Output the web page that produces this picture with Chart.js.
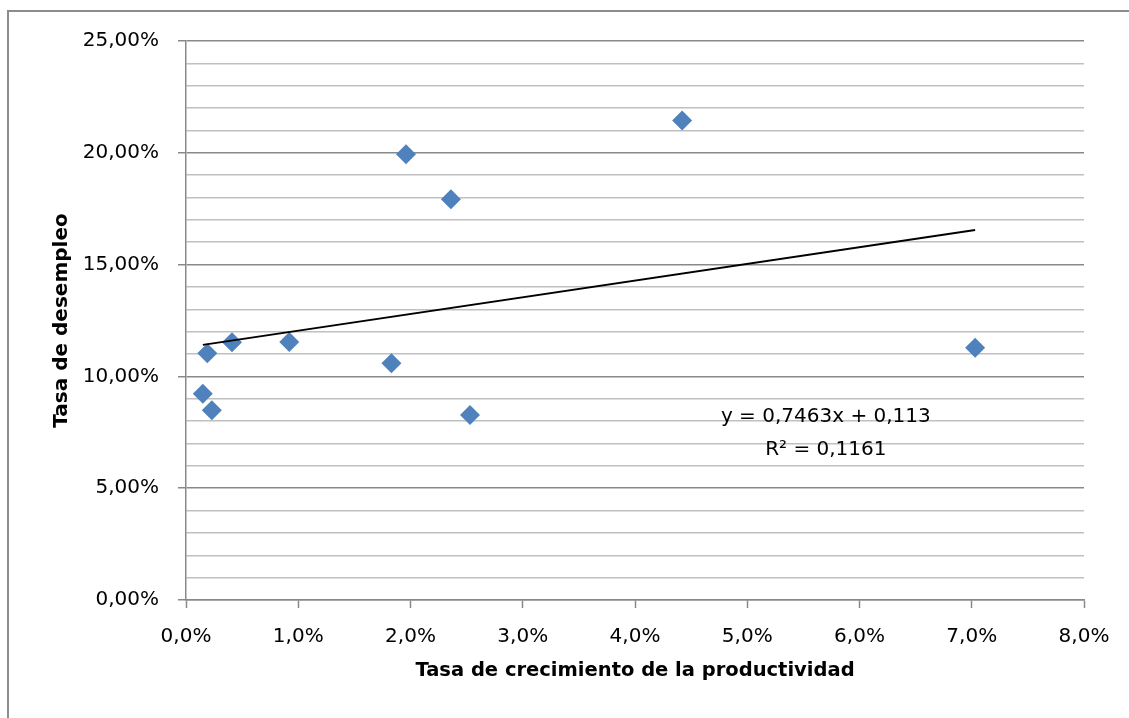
<!DOCTYPE html>
<html>
<head>
<meta charset="utf-8">
<script src="https://cdn.jsdelivr.net/npm/chart.js@4"></script>
<style>
  html, body { margin: 0; padding: 0; background: #ffffff; overflow: hidden; width: 1129px; height: 718px; }
  #frame { position: absolute; left: 7px; top: 10px; width: 1122px; height: 708px;
           border-left: 2px solid #8c8c8c; border-top: 2px solid #8c8c8c; box-sizing: border-box; z-index: 0; }
  #wrap { position: absolute; left: 0; top: 0; width: 1129px; height: 718px; z-index: 1; }
</style>
</head>
<body>
<div id="frame"></div>
<div id="wrap"><canvas id="c"></canvas></div>
<script>
// Data (percent units)
const productividad = [4.42, 1.96, 2.36, 7.03, 0.19, 0.41, 0.92, 1.83, 0.15, 0.23, 2.53];
const desempleo     = [21.44, 19.93, 17.92, 11.28, 11.03, 11.53, 11.54, 10.59, 9.22, 8.49, 8.27];
const trendX = [0.15, 7.03];
const trendY = [11.41, 16.55];
const equationLines = ['y = 0,7463x + 0,113', 'R² = 0,1161'];
const equationAnchorX = 5.70;
const equationAnchorY = [8.19, 6.71];
const xTitle = 'Tasa de crecimiento de la productividad';
const yTitle = 'Tasa de desempleo';

const FONT = "'DejaVu Sans', sans-serif";
const MAJOR = '#898989';
const MINOR = '#c0c0c0';

const equationPlugin = {
  id: 'equation',
  afterDatasetsDraw(chart) {
    const ctx = chart.ctx;
    const xs = chart.scales.x, ys = chart.scales.y;
    ctx.save();
    ctx.font = "20px " + FONT;
    ctx.fillStyle = '#000000';
    ctx.textAlign = 'center';
    ctx.textBaseline = 'middle';
    equationLines.forEach((t, i) => {
      ctx.fillText(t, xs.getPixelForValue(equationAnchorX), ys.getPixelForValue(equationAnchorY[i]));
    });
    ctx.restore();
  }
};

const pts = productividad.map((x, i) => ({x: x, y: desempleo[i]}));
const trend = trendX.map((x, i) => ({x: x, y: trendY[i]}));

new Chart(document.getElementById('c'), {
  type: 'scatter',
  data: {
    datasets: [
      {
        label: 'Tasa de desempleo',
        data: pts,
        pointStyle: 'rectRot',
        pointRadius: 10,
        pointHoverRadius: 10,
        backgroundColor: '#4f81bd',
        borderColor: '#4f81bd',
        borderWidth: 0,
        order: 2
      },
      {
        label: 'Lineal',
        type: 'line',
        data: trend,
        showLine: true,
        pointRadius: 0,
        borderColor: '#000000',
        borderWidth: 2,
        fill: false,
        order: 1
      }
    ]
  },
  options: {
    responsive: true,
    maintainAspectRatio: false,
    animation: false,
    layout: { padding: { top: 41, right: 45, left: 0, bottom: 0 } },
    plugins: {
      legend: { display: false },
      tooltip: { enabled: false }
    },
    scales: {
      x: {
        type: 'linear',
        min: 0, max: 8,
        afterFit(scale) { scale.height = 118; },
        ticks: {
          stepSize: 1,
          autoSkip: false,
          maxRotation: 0,
          padding: 17,
          color: '#000000',
          font: { family: FONT, size: 20 },
          callback: (v) => v.toFixed(1).replace('.', ',') + '%'
        },
        grid: {
          drawOnChartArea: false,
          drawTicks: true,
          tickLength: 8,
          tickColor: MAJOR,
          tickWidth: 1.5
        },
        border: { display: true, color: MAJOR, width: 1.5 },
        title: {
          display: true,
          text: xTitle,
          color: '#000000',
          font: { family: FONT, size: 19.5, weight: 'bold' },
          padding: { top: 0, bottom: 35 }
        }
      },
      y: {
        type: 'linear',
        min: 0, max: 25,
        afterFit(scale) { scale.width = 186; },
        ticks: {
          stepSize: 1,
          autoSkip: false,
          padding: 19,
          color: '#000000',
          font: { family: FONT, size: 20 },
          callback: (v) => (Math.round(v) % 5 === 0) ? v.toFixed(2).replace('.', ',') + '%' : ''
        },
        grid: {
          drawOnChartArea: true,
          drawTicks: true,
          tickLength: 8,
          lineWidth: 1.5,
          tickWidth: 1.5,
          color: (ctx) => (ctx.tick && Math.round(ctx.tick.value) % 5 === 0) ? MAJOR : MINOR,
          tickColor: (ctx) => (ctx.tick && Math.round(ctx.tick.value) % 5 === 0) ? MAJOR : 'rgba(0,0,0,0)'
        },
        border: { display: true, color: MAJOR, width: 1.5 },
        title: {
          display: true,
          text: yTitle,
          color: '#000000',
          font: { family: FONT, size: 20, weight: 'bold' },
          padding: { top: 50, bottom: 0 }
        }
      }
    }
  },
  plugins: [equationPlugin]
});
</script>
</body>
</html>
